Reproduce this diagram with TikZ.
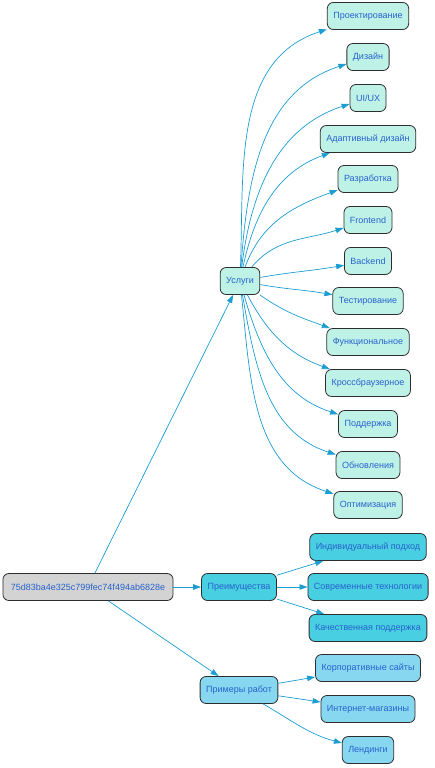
\documentclass[tikz,border=0pt]{standalone}
\usepackage{fontspec}
\setmainfont{Liberation Sans}
\usetikzlibrary{arrows.meta}
\definecolor{edgeblue}{RGB}{27,157,210}
\definecolor{textblue}{RGB}{38,98,205}
\definecolor{rootgray}{RGB}{211,211,211}
\definecolor{mintbox}{RGB}{191,242,231}
\definecolor{cyanbox}{RGB}{72,207,225}
\definecolor{skybox}{RGB}{135,215,240}
\definecolor{boxline}{RGB}{45,45,45}

\begin{document}
\begin{tikzpicture}[x=1pt,y=-1pt,>={Triangle[length=8pt,width=5.5pt]},font=\fontsize{9}{10}\selectfont,
  box/.style={draw=boxline,line width=0.8pt,rounded corners=6pt,minimum height=27pt,inner xsep=6pt,text=textblue},
  rootbox/.style={box,fill=rootgray,inner xsep=8pt},
  mainbox/.style={box,fill=mintbox},
  advbox/.style={box,fill=cyanbox},
  workbox/.style={box,fill=skybox},
  link/.style={->,draw=edgeblue,line width=0.7pt}]
\useasboundingbox (0,0) rectangle (434,768);
% hubs
\node[rootbox] (root) at (88,587) {75d83ba4e325c799fec74f494ab6828e};
\node[mainbox] (uslugi) at (240,281) {Услуги};
\node[advbox] (preim) at (239,587) {Преимущества};
\node[workbox] (primery) at (239,690) {Примеры работ};
% services
\node[mainbox] (proekt) at (368,16) {Проектирование};
\node[mainbox] (dizain) at (368,57) {Дизайн};
\node[mainbox] (uiux) at (368,98) {UI/UX};
\node[mainbox] (adapt) at (368,139) {Адаптивный дизайн};
\node[mainbox] (razrab) at (368,179) {Разработка};
\node[mainbox] (front) at (368,220) {Frontend};
\node[mainbox] (back) at (368,261) {Backend};
\node[mainbox] (test) at (368,301) {Тестирование};
\node[mainbox] (func) at (368,342) {Функциональное};
\node[mainbox] (cross) at (368,383) {Кроссбраузерное};
\node[mainbox] (podd) at (368,424) {Поддержка};
\node[mainbox] (obnov) at (368,465) {Обновления};
\node[mainbox] (optim) at (368,505) {Оптимизация};
% advantages
\node[advbox] (indiv) at (368,547) {Индивидуальный подход};
\node[advbox] (sovr) at (368,587) {Современные технологии};
\node[advbox] (kach) at (368,628) {Качественная поддержка};
% works
\node[workbox] (korp) at (368,668) {Корпоративные сайты};
\node[workbox] (inet) at (368,709) {Интернет-магазины};
\node[workbox] (lend) at (368,750) {Лендинги};
% edges
\draw[link] (root) -- (uslugi);
\draw[link] (root) -- (preim);
\draw[link] (root) -- (primery);
\draw[link] (uslugi) to[out=88,in=198] (proekt);
\draw[link] (uslugi) to[out=86,in=198] (dizain);
\draw[link] (uslugi) to[out=83,in=198] (uiux);
\draw[link] (uslugi) to[out=78,in=200] (adapt);
\draw[link] (uslugi) to[out=70,in=200] (razrab);
\draw[link] (uslugi) to[out=50,in=198] (front);
\draw[link] (uslugi) to[out=10,in=190] (back);
\draw[link] (uslugi) to[out=-10,in=170] (test);
\draw[link] (uslugi) to[out=-35,in=160] (func);
\draw[link] (uslugi) to[out=-62,in=160] (cross);
\draw[link] (uslugi) to[out=-74,in=162] (podd);
\draw[link] (uslugi) to[out=-80,in=162] (obnov);
\draw[link] (uslugi) to[out=-84,in=162] (optim);
\draw[link] (preim) -- (indiv);
\draw[link] (preim) -- (sovr);
\draw[link] (preim) -- (kach);
\draw[link] (primery) -- (korp);
\draw[link] (primery) -- (inet);
\draw[link] (primery) to[out=-30,in=165] (lend);
\end{tikzpicture}
\end{document}
